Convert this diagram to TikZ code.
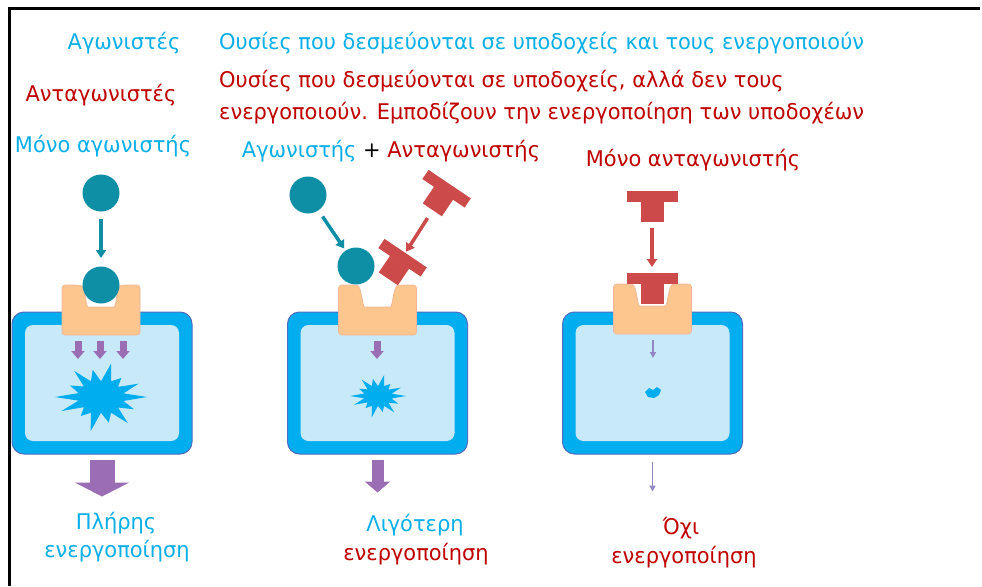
\documentclass[tikz,border=0pt]{standalone}
\usepackage{fontspec}
\setmainfont{DejaVu Sans}[FakeStretch=0.97]
\usetikzlibrary{arrows.meta}

\definecolor{agc}{HTML}{0AAFE8}
\definecolor{antr}{HTML}{C00000}
\definecolor{tealc}{HTML}{0F8FA6}
\definecolor{tred}{HTML}{CD4A4A}
\definecolor{recepfill}{HTML}{FCC68E}
\definecolor{recepedge}{HTML}{F2B49C}
\definecolor{boxblue}{HTML}{00AEEF}
\definecolor{boxedge}{HTML}{4F6CC0}
\definecolor{boxin}{HTML}{C8E9F8}
\definecolor{purp}{HTML}{9A6DB5}
\definecolor{purpthin}{HTML}{9387C6}

\tikzset{
  txt/.style={inner sep=0pt, font=\fontsize{21.6}{25}\selectfont},
  ligand/.style={circle, fill=tealc, minimum size=37pt, inner sep=0pt, outer sep=0pt},
  tanchor/.style={rectangle, minimum width=51pt, minimum height=31pt, inner sep=0pt, outer sep=0pt},
  cellout/.style={rectangle, rounded corners=12pt, fill=boxblue, draw=boxedge, line width=1pt,
                  minimum width=180pt, minimum height=142pt, inner sep=0pt},
  cellin/.style={rectangle, rounded corners=8pt, fill=boxin,
                 minimum width=154pt, minimum height=116pt, inner sep=0pt},
  recep/.style={fill=recepfill, draw=recepedge, line width=0.6pt},
  tealarrow/.style={draw=tealc, line width=3.5pt, -{Triangle[width=10pt,length=8pt]}},
  redarrow/.style={draw=tred, line width=3.5pt, -{Triangle[width=10pt,length=8pt]}},
  smallpurp/.style={draw=purp, line width=7pt, -{Triangle[width=13pt,length=8pt]}},
  thinpurp/.style={draw=purpthin, line width=1.5pt, -{Triangle[width=6pt,length=6pt]}},
  burst/.style={fill=boxblue},
}

% receptor protein sitting on the membrane; #1,#2 = centre of its top edge
\newcommand\receptorshape[2]{%
  \begin{scope}[shift={(#1,#2)}]
    \filldraw[recep, rounded corners=3pt]
      (-39,0) -- (-23,0)
      .. controls (-16,1) and (-15,22) .. (-10,22)
      -- (10,22)
      .. controls (15,22) and (16,1) .. (23,0)
      -- (39,0) -- (39,50) -- (-39,50) -- cycle;
  \end{scope}}

% antagonist molecule (T shape); #1 node name, #2,#3 centre, #4 rotation
\newcommand\antagonist[4]{%
  \node[tanchor, rotate=#4] (#1) at (#2,#3) {};
  \begin{scope}[shift={(#2,#3)}, rotate=#4]
    \fill[tred] (-25.5,-15.5) rectangle (25.5,-4.5);
    \fill[tred] (-11.5,-4.8) rectangle (11.5,15.5);
  \end{scope}}

% signal burst inside the cell; #1,#2 centre, #3,#4 half-widths
\newcommand\signalburst[4]{%
  \begin{scope}[shift={(#1,#2)}, xscale=#3, yscale=#4]
    \fill[burst] (0:1) -- (13:.5) -- (26:.8) -- (39:.48) -- (52:.95) -- (64:.5)
      -- (77:.75) -- (90:.45) -- (103:1) -- (116:.5) -- (129:.7) -- (142:.47)
      -- (155:.95) -- (168:.5) -- (180:1) -- (193:.5) -- (206:.75) -- (219:.48)
      -- (232:.95) -- (244:.5) -- (257:.8) -- (270:.45) -- (283:.98) -- (296:.5)
      -- (309:.7) -- (322:.47) -- (335:.9) -- (348:.5) -- cycle;
  \end{scope}}

\begin{document}
\begin{tikzpicture}[x=1pt, y=-1pt]
\useasboundingbox (0,0) rectangle (982,586);
\fill[white] (0,0) rectangle (982,586);

% frame
\draw[line width=3pt] (9,586) -- (9,9) -- (980,9);

% definitions
\node[txt, text=agc, anchor=base] (hAg) at (124,49) {Αγωνιστές};
\node[txt, text=agc, anchor=base west] (dAg) at (219,49)
  {Ουσίες που δεσμεύονται σε υποδοχείς και τους ενεργοποιούν};
\node[txt, text=antr, anchor=base] (hAnt) at (101,101) {Ανταγωνιστές};
\node[txt, text=antr, anchor=base west] (dAnt1) at (219,88)
  {Ουσίες που δεσμεύονται σε υποδοχείς, αλλά δεν τους};
\node[txt, text=antr, anchor=base west] (dAnt2) at (219,119)
  {ενεργοποιούν. Εμποδίζουν την ενεργοποίηση των υποδοχέων};

% panel titles
\node[txt, text=agc, anchor=base] (t1) at (103,152) {Μόνο αγωνιστής};
\node[txt, anchor=base] (t2) at (391,157)
  {\textcolor{agc}{Αγωνιστής} + \textcolor{antr}{Ανταγωνιστής}};
\node[txt, text=antr, anchor=base] (t3) at (693,166) {Μόνο ανταγωνιστής};

% cells
\foreach \n/\cx in {1/102, 2/377.5, 3/652.5}{
  \node[cellout] (cell\n) at (\cx,383) {};
  \node[cellin] (in\n) at (\cx,383) {};
}

% receptors
\receptorshape{101}{285}
\receptorshape{377.5}{285}
\receptorshape{652.5}{284}

% panel 1: agonist only
\node[ligand] (ag1) at (101,193) {};
\node[ligand] (ag1b) at (101,285) {};
\draw[tealarrow, shorten <=7.5pt, shorten >=8.5pt] (ag1) -- (ag1b);
\foreach \x in {78,100,123}
  \draw[smallpurp] (\x,341) -- (\x,359);
\signalburst{101}{397}{46}{35}
\draw[draw=purp, line width=25pt, -{Triangle[width=54pt,length=14pt]}]
  ([yshift=-5pt]cell1.south) -- ++(0,37);

% panel 2: agonist + antagonist
\node[ligand] (ag2) at (308,195) {};
\node[ligand] (ag2b) at (356,266) {};
\draw[tealarrow, shorten <=7.5pt, shorten >=2.5pt] (ag2) -- (ag2b);
\antagonist{an2}{441}{197}{-34}
\antagonist{an2b}{397}{266}{-34}
\draw[redarrow, shorten <=9.5pt, shorten >=1.5pt] (an2) -- (an2b);
\draw[smallpurp] (377,341) -- (377,359);
\signalburst{378}{396}{28}{22}
\draw[draw=purp, line width=12pt, -{Triangle[width=25pt,length=11pt]}]
  ([yshift=-5pt]cell2.south) -- ++(0,33);

% panel 3: antagonist only
\antagonist{an3}{652}{206}{0}
\antagonist{an3b}{652}{288.5}{0}
\draw[redarrow, shorten <=6.5pt, shorten >=6pt] (an3) -- (an3b);
\draw[thinpurp] (653,340) -- (653,358);
\fill[boxblue] (645,392) -- (649,388) -- (653,390) -- (657,387) -- (661,390)
  -- (659,395) -- (654,398) -- (648,397) -- cycle;
\draw[thinpurp] ([yshift=-7pt]cell3.south) -- ++(0,30);

% outcomes
\node[txt, text=agc, anchor=base] (o1a) at (116,529) {Πλήρης};
\node[txt, text=agc, anchor=base] (o1b) at (117,557) {ενεργοποίηση};
\node[txt, text=agc, anchor=base] (o2a) at (415,531) {Λιγότερη};
\node[txt, text=antr, anchor=base] (o2b) at (416,560) {ενεργοποίηση};
\node[txt, text=antr, anchor=base] (o3a) at (681,534) {Όχι};
\node[txt, text=antr, anchor=base] (o3b) at (684,563) {ενεργοποίηση};
\end{tikzpicture}
\end{document}
